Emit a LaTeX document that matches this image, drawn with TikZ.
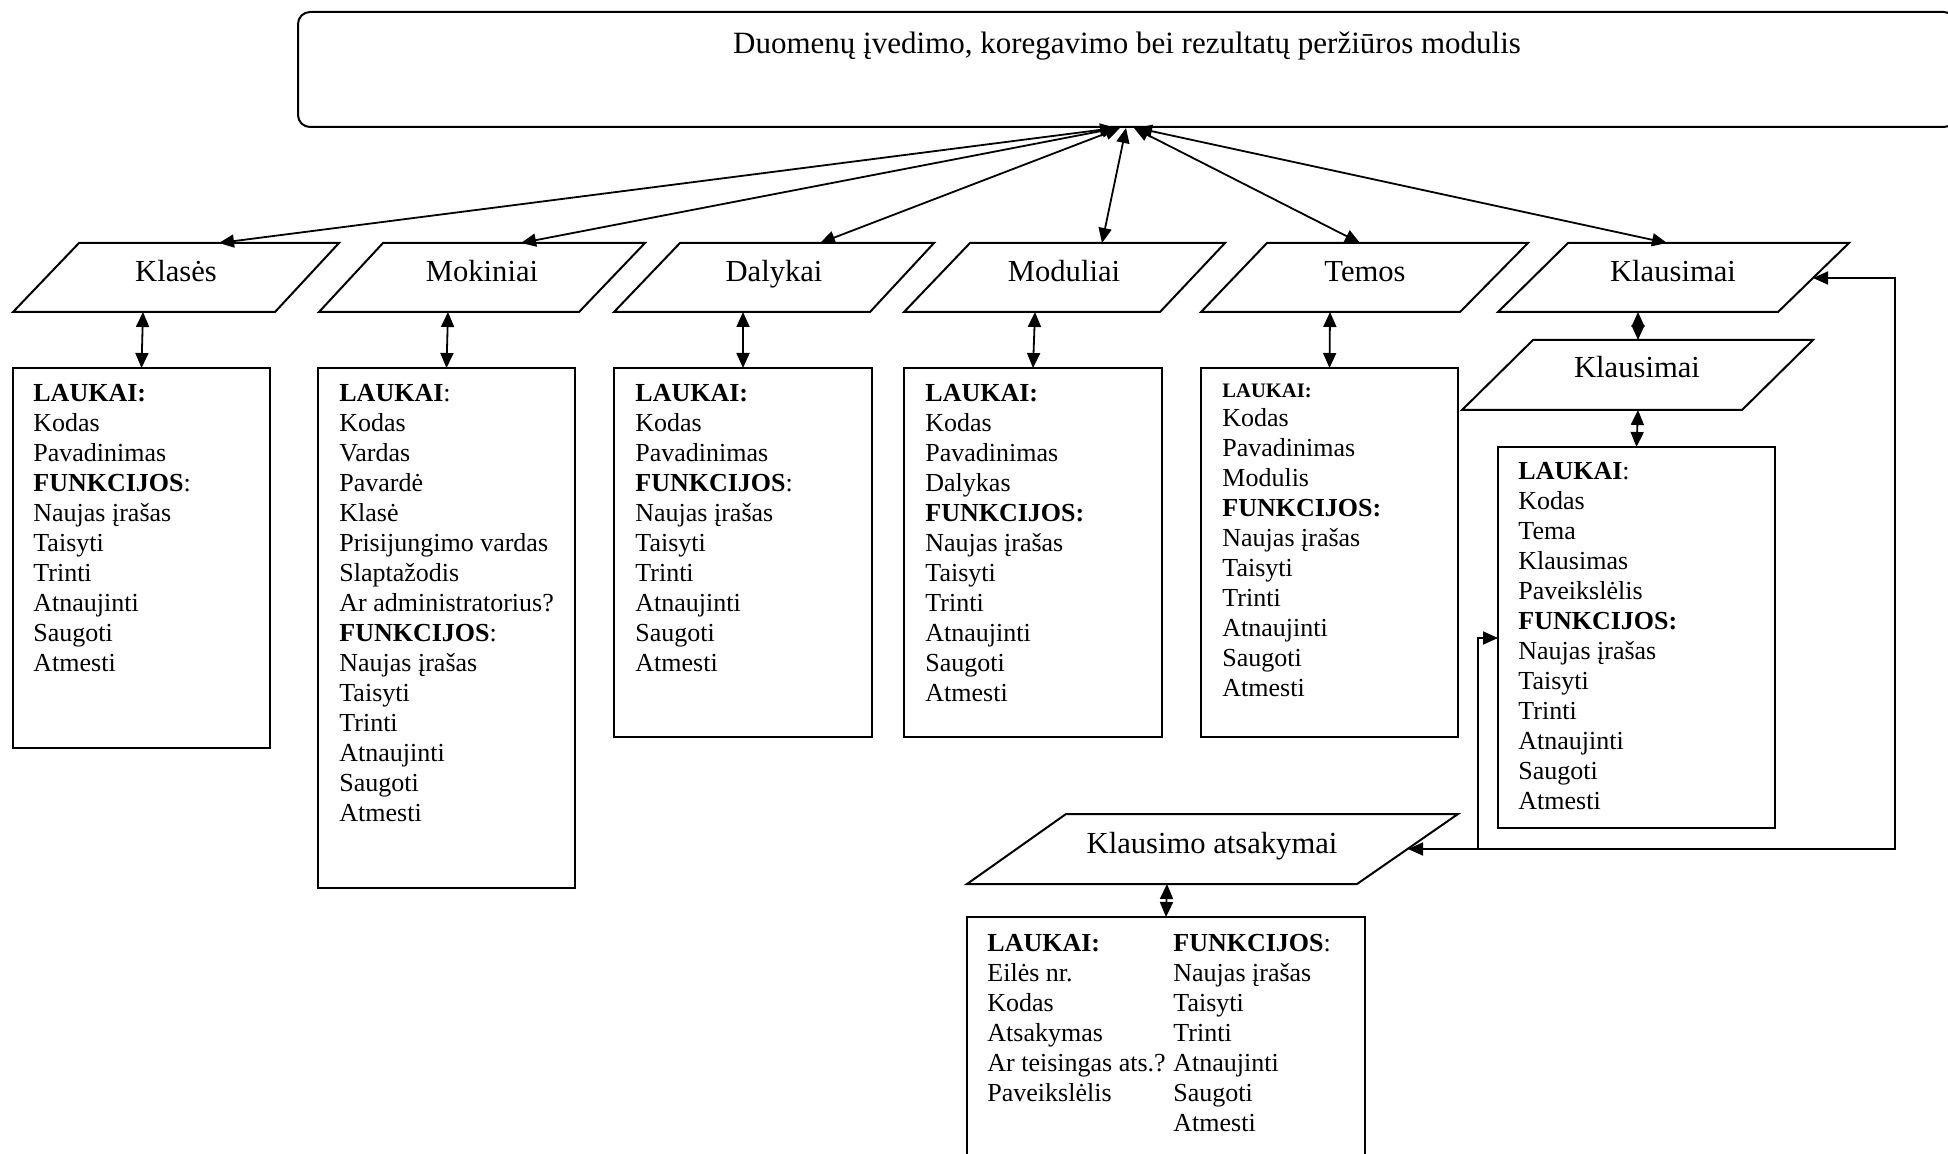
\documentclass[tikz,border=0pt]{standalone}
\usepackage{fontspec}
\setmainfont{Liberation Serif}
\usetikzlibrary{arrows.meta}
% a column of lines whose baseline is that of its first line
\newcommand\fieldlist[1]{\begin{tabular}[t]{@{}l@{}}#1\end{tabular}}
\begin{document}
\begin{tikzpicture}[x=0.5pt,y=-0.5pt,
  frame/.style={draw, line width=1pt},
  boxnode/.style={draw, line width=1pt, inner sep=0pt, outer sep=0pt, anchor=north west},
  tip/.tip={Triangle[length=7.5pt,width=6.5pt]},
  biarr/.style={line width=0.9pt, tip-tip},
  arr/.style={line width=0.9pt, -tip},
  lbl/.style={font=\fontsize{15.3}{18}\selectfont, inner sep=0pt, anchor=base},
  titletext/.style={font=\fontsize{15.5}{19}\selectfont, inner sep=0pt, anchor=base},
  body/.style={font=\fontsize{13}{15}\selectfont, inner sep=0pt, anchor=base west},
  small/.style={font=\fontsize{10.3}{12}\selectfont\bfseries, inner sep=0pt, anchor=base west}]
\useasboundingbox (0,0) rectangle (1948,1154);
\clip (0,0) rectangle (1948,1154);

% top module box
\node[boxnode, rounded corners=6pt, minimum width=829pt, minimum height=57.5pt] (top) at (298,12) {};
\node[titletext] (toptitle) at (1127,54) {Duomenų įvedimo, koregavimo bei rezultatų peržiūros modulis};

% table parallelograms
\draw[frame] (13,312) -- (275,312) -- (339,243) -- (79,243) -- cycle;
\node[lbl] (klases) at (176,282) {Klasės};
\draw[frame] (319,312) -- (579,312) -- (645,243) -- (383,243) -- cycle;
\node[lbl] (mokiniai) at (482,282) {Mokiniai};
\draw[frame] (614,312) -- (870,312) -- (934,243) -- (680,243) -- cycle;
\node[lbl] (dalykai) at (774,282) {Dalykai};
\draw[frame] (904,312) -- (1160,312) -- (1225,243) -- (970,243) -- cycle;
\node[lbl] (moduliai) at (1064,282) {Moduliai};
\draw[frame] (1201,312) -- (1460,312) -- (1528,243) -- (1267,243) -- cycle;
\node[lbl] (temos) at (1365,282) {Temos};
\draw[frame] (1498,312) -- (1778,312) -- (1849,243) -- (1568,243) -- cycle;
\node[lbl] (klausimai) at (1673,282) {Klausimai};
\draw[frame] (1462,410) -- (1742,410) -- (1813,340) -- (1533,340) -- cycle;
\node[lbl] (klausimai2) at (1637,378) {Klausimai};
\draw[frame] (967,884) -- (1357,884) -- (1458,814) -- (1066,814) -- cycle;
\node[lbl] (atsakymai) at (1212,853) {Klausimo atsakymai};

% connection points on the parallelograms
\coordinate (klases-n) at (219,243);
\coordinate (mokiniai-n) at (521,243);
\coordinate (dalykai-n) at (820,243);
\coordinate (moduliai-n) at (1102,243);
\coordinate (temos-n) at (1360,243);
\coordinate (klausimai-n) at (1667,243);
\coordinate (klases-s) at (143,312);
\coordinate (mokiniai-s) at (448,312);
\coordinate (dalykai-s) at (743,312);
\coordinate (moduliai-s) at (1035,312);
\coordinate (temos-s) at (1330,312);
\coordinate (klausimai-s) at (1638,312);
\coordinate (klausimai2-n) at (1638,340);
\coordinate (klausimai2-s) at (1638,410);
\coordinate (atsakymai-s) at (1167,884);
\coordinate (klausimai-e) at (1813,278);
\coordinate (atsakymai-e) at (1408,849);

% hub points under the module box
\coordinate (h1) at (1115,128);
\coordinate (h2) at (1117,128);
\coordinate (h3) at (1120,128);
\coordinate (h4) at (1126,128);
\coordinate (h5) at (1134,128);
\coordinate (h6) at (1137,128);

% field boxes
\node[boxnode, minimum width=128.5pt, minimum height=190pt] (klasesbox) at (13,368) {};
\node[boxnode, minimum width=128.5pt, minimum height=260pt] (mokiniaibox) at (318,368) {};
\node[boxnode, minimum width=129pt, minimum height=184.5pt] (dalykaibox) at (614,368) {};
\node[boxnode, minimum width=129pt, minimum height=184.5pt] (moduliaibox) at (904,368) {};
\node[boxnode, minimum width=128.5pt, minimum height=184.5pt] (temosbox) at (1201,368) {};
\node[boxnode, minimum width=138.5pt, minimum height=190.5pt] (klausimaibox) at (1498,447) {};
\node[boxnode, minimum width=199pt, minimum height=130pt] (atsakymaibox) at (967,917) {};

% box contents
\node[body] (klasestxt) at (33,402) {\fieldlist{\textbf{LAUKAI:}\\Kodas\\Pavadinimas\\\textbf{FUNKCIJOS}:\\Naujas įrašas\\Taisyti\\Trinti\\Atnaujinti\\Saugoti\\Atmesti}};
\node[body] (mokiniaitxt) at (339,402) {\fieldlist{\textbf{LAUKAI}:\\Kodas\\Vardas\\Pavardė\\Klasė\\Prisijungimo vardas\\Slaptažodis\\Ar administratorius?\\\textbf{FUNKCIJOS}:\\Naujas įrašas\\Taisyti\\Trinti\\Atnaujinti\\Saugoti\\Atmesti}};
\node[body] (dalykaitxt) at (635,402) {\fieldlist{\textbf{LAUKAI:}\\Kodas\\Pavadinimas\\\textbf{FUNKCIJOS}:\\Naujas įrašas\\Taisyti\\Trinti\\Atnaujinti\\Saugoti\\Atmesti}};
\node[body] (moduliaitxt) at (925,402) {\fieldlist{\textbf{LAUKAI:}\\Kodas\\Pavadinimas\\Dalykas\\\textbf{FUNKCIJOS:}\\Naujas įrašas\\Taisyti\\Trinti\\Atnaujinti\\Saugoti\\Atmesti}};
\node[small] (temoshead) at (1222,398) {LAUKAI:};
\node[body] (temostxt) at (1222,427) {\fieldlist{Kodas\\Pavadinimas\\Modulis\\\textbf{FUNKCIJOS:}\\Naujas įrašas\\Taisyti\\Trinti\\Atnaujinti\\Saugoti\\Atmesti}};
\node[body] (klausimaitxt) at (1518,480) {\fieldlist{\textbf{LAUKAI}:\\Kodas\\Tema\\Klausimas\\Paveikslėlis\\\textbf{FUNKCIJOS:}\\Naujas įrašas\\Taisyti\\Trinti\\Atnaujinti\\Saugoti\\Atmesti}};
\node[body] (atsfields) at (987,951) {\fieldlist{\textbf{LAUKAI:}\\Eilės nr.\\Kodas\\Atsakymas\\Ar teisingas ats.?\\Paveikslėlis}};
\node[body] (atsfunc) at (1173,951) {\fieldlist{\textbf{FUNKCIJOS}:\\Naujas įrašas\\Taisyti\\Trinti\\Atnaujinti\\Saugoti\\Atmesti}};

% module to tables
\draw[biarr] (h1) -- (klases-n);
\draw[biarr] (h2) -- (mokiniai-n);
\draw[biarr] (h3) -- (dalykai-n);
\draw[biarr] (h4) -- (moduliai-n);
\draw[biarr] (h5) -- (temos-n);
\draw[biarr] (h6) -- (klausimai-n);

% tables to their field boxes
\draw[biarr] (klases-s) -- (klasesbox.north);
\draw[biarr] (mokiniai-s) -- (mokiniaibox.north);
\draw[biarr] (dalykai-s) -- (dalykaibox.north);
\draw[biarr] (moduliai-s) -- (moduliaibox.north);
\draw[biarr] (temos-s) -- (temosbox.north);
\draw[biarr] (klausimai-s) -- (klausimai2-n);
\draw[biarr] (klausimai2-s) -- (klausimaibox.north);
\draw[biarr] (atsakymai-s) -- (atsakymaibox.north);

% answers loop
\coordinate (loopcorner) at (1895,849);
\coordinate (junction) at (1478,849);
\coordinate (kbox-in) at (1498,638);
\draw[biarr] (atsakymai-e) -- (loopcorner) |- (klausimai-e);
\draw[arr] (junction) |- (kbox-in);
\end{tikzpicture}
\end{document}
